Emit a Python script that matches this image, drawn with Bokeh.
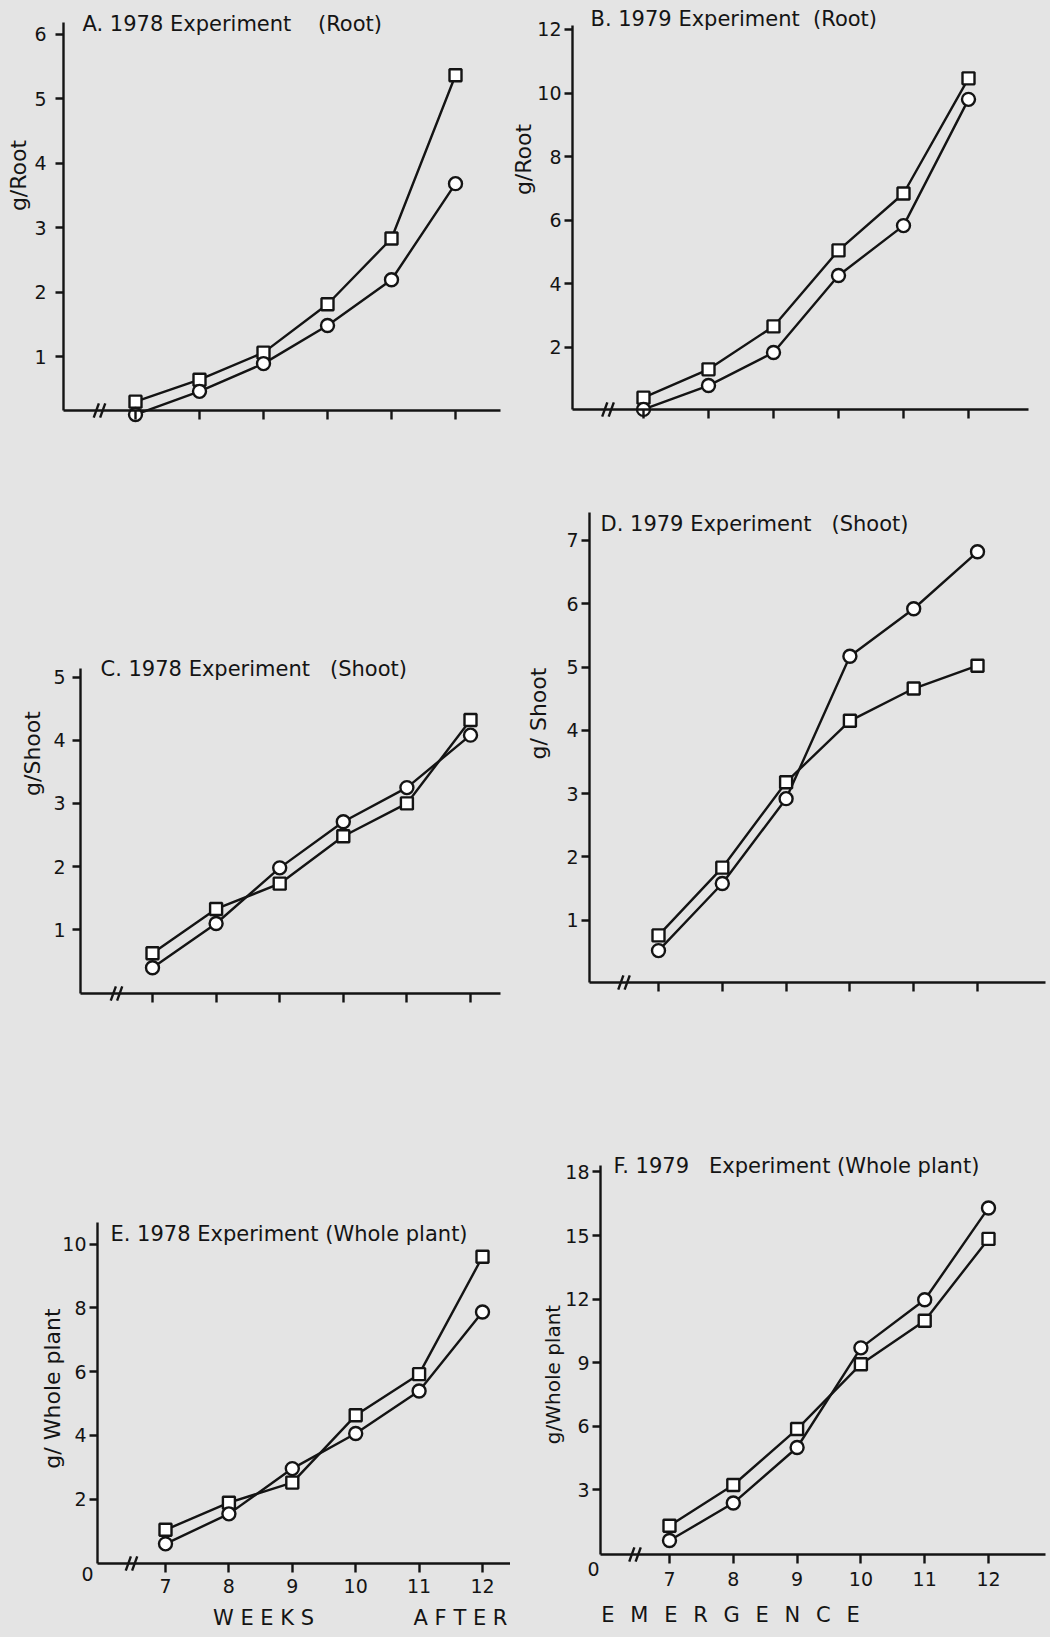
import numpy as np
from bokeh.plotting import figure
from bokeh.models import Label, FixedTicker, Range1d
from bokeh.layouts import row, column
from bokeh.embed import file_html
from bokeh.resources import INLINE

# ---------------- data ----------------
weeks = [7, 8, 9, 10, 11, 12]

root78_sq = [0.30, 0.64, 1.06, 1.81, 2.83, 5.36]
root78_ci = [0.10, 0.46, 0.89, 1.48, 2.19, 3.68]

root79_sq = [0.42, 1.31, 2.66, 5.05, 6.84, 10.46]
root79_ci = [0.05, 0.80, 1.84, 4.26, 5.83, 9.80]

shoot78_sq = [0.63, 1.33, 1.73, 2.48, 3.00, 4.32]
shoot78_ci = [0.40, 1.10, 1.98, 2.71, 3.25, 4.08]

shoot79_sq = [0.76, 1.83, 3.18, 4.15, 4.66, 5.02]
shoot79_ci = [0.52, 1.58, 2.92, 5.17, 5.92, 6.82]

whole78_sq = [1.04, 1.89, 2.52, 4.63, 5.92, 9.60]
whole78_ci = [0.60, 1.54, 2.96, 4.06, 5.39, 7.87]

whole79_sq = [1.31, 3.23, 5.87, 8.93, 10.98, 14.84]
whole79_ci = [0.61, 2.38, 5.00, 9.70, 11.97, 16.30]

NB = "\u00a0"
titles = ["A. 1978 Experiment" + NB * 4 + "(Root)",
          "B. 1979 Experiment" + NB * 2 + "(Root)",
          "C. 1978 Experiment" + NB * 3 + "(Shoot)",
          "D. 1979 Experiment" + NB * 3 + "(Shoot)",
          "E. 1978 Experiment (Whole plant)",
          "F. 1979" + NB * 3 + "Experiment (Whole plant)"]
ylabels = ["g/Root", "g/Root", "g/Shoot", "g/ Shoot", "g/ Whole plant", "g/Whole plant"]
yticks_list = [[1, 2, 3, 4, 5, 6],
               [2, 4, 6, 8, 10, 12],
               [1, 2, 3, 4, 5],
               [1, 2, 3, 4, 5, 6, 7],
               [2, 4, 6, 8, 10],
               [3, 6, 9, 12, 15, 18]]
SP = "\u2002\u2005"
xlabel_words = ["W E E K S", "A F T E R", SP.join("EMERGENCE")]

# ---------------- layout geometry (page pixels, canvas origin at page 0,0) ----------------
BG = "#e4e4e4"
INK = "#141414"
FONT = "DejaVu Sans"

geo = [
    dict(canvas=(0, 0, 510, 440), ax_x=63, ax_y=410, zero=420.5, ppu=64.5, w7=135, ppw=64.0,
         axis_top=22, f_right=500, title=(82, 23), ylab=(18, 175), yfs=22, ystand=9, xlabels=False),
    dict(canvas=(510, 0, 540, 440), ax_x=572, ax_y=409, zero=410.5, ppu=31.8, w7=643, ppw=65.0,
         axis_top=25, f_right=1028, title=(590, 18), ylab=(523, 159), yfs=22, ystand=3, xlabels=False),
    dict(canvas=(0, 440, 510, 580), ax_x=80, ax_y=993, zero=992.5, ppu=63.2, w7=152, ppw=63.6,
         axis_top=668, f_right=500, title=(100, 668), ylab=(32, 753), yfs=22, ystand=7, xlabels=False),
    dict(canvas=(510, 440, 540, 580), ax_x=589, ax_y=982, zero=983.0, ppu=63.3, w7=658, ppw=63.8,
         axis_top=512, f_right=1045, title=(600, 523), ylab=(538, 713), yfs=22, ystand=3, xlabels=False),
    dict(canvas=(0, 1020, 510, 615), ax_x=97, ax_y=1563, zero=1562.5, ppu=31.9, w7=165, ppw=63.4,
         axis_top=1222, f_right=510, title=(110, 1233), ylab=(52, 1388), yfs=22, ystand=3,
         xlabels=True, xstand=6, zero_lab=(87, 1573)),
    dict(canvas=(510, 1020, 540, 615), ax_x=600, ax_y=1554, zero=1553.0, ppu=21.2, w7=669, ppw=63.8,
         axis_top=1165, f_right=1045, title=(613, 1165), ylab=(552, 1374), yfs=20, ystand=3,
         xlabels=True, xstand=8, zero_lab=(593, 1568)),
]

series = [(root78_sq, root78_ci), (root79_sq, root79_ci), (shoot78_sq, shoot78_ci),
          (shoot79_sq, shoot79_ci), (whole78_sq, whole78_ci), (whole79_sq, whole79_ci)]


def make_panel(i):
    g = geo[i]
    sq, ci = series[i]
    fx0, fy0, fw, fh = g["canvas"]

    def xd(px):
        return 7 + (px - g["w7"]) / g["ppw"]

    def yd(py):
        return (g["zero"] - py) / g["ppu"]

    p = figure(width=fw, height=fh,
               x_range=Range1d(xd(fx0), xd(fx0 + fw)),
               y_range=Range1d(yd(fy0 + fh), yd(fy0)),
               output_backend="svg", toolbar_location=None,
               min_border_left=0, min_border_right=0, min_border_top=0, min_border_bottom=0)
    p.background_fill_color = BG
    p.border_fill_color = BG
    p.outline_line_color = None
    p.xgrid.visible = False
    p.ygrid.visible = False

    ax_val = yd(g["ax_y"])
    ax_left = xd(g["ax_x"])

    # y axis
    ya = p.yaxis[0]
    ya.fixed_location = ax_left
    ya.ticker = FixedTicker(ticks=yticks_list[i])
    ya.bounds = (ax_val, yd(g["axis_top"]))
    ya.axis_line_width = 2.4
    ya.axis_line_color = INK
    ya.major_tick_line_width = 2.4
    ya.major_tick_line_color = INK
    ya.major_tick_out = 8
    ya.major_tick_in = 0
    ya.minor_tick_line_color = None
    ya.major_label_standoff = g["ystand"]
    ya.major_label_text_font = FONT
    ya.major_label_text_font_size = "19px"
    ya.major_label_text_color = INK

    # x axis at the data baseline
    xa = p.xaxis[0]
    xa.fixed_location = ax_val
    xa.bounds = (ax_left, xd(g["f_right"]))
    xa.ticker = FixedTicker(ticks=weeks)
    xa.axis_line_width = 2.4
    xa.axis_line_color = INK
    xa.major_tick_line_width = 2.4
    xa.major_tick_line_color = INK
    xa.major_tick_out = 9
    xa.major_tick_in = 0
    xa.minor_tick_line_color = None
    xa.major_label_text_font = FONT
    xa.major_label_text_font_size = "19px"
    xa.major_label_text_color = INK
    if g["xlabels"]:
        xa.major_label_standoff = g["xstand"]
    else:
        xa.major_label_overrides = {w: "" for w in weeks}

    # axis break "//"
    brk = (ax_left + 7) / 2
    p.scatter(x=[brk - 0.05, brk + 0.05], y=[ax_val, ax_val], marker="dash", size=15,
              angle=np.radians(70), line_color=INK, line_width=2.4)

    # series
    p.line(weeks, sq, line_width=2.4, line_color=INK)
    p.line(weeks, ci, line_width=2.4, line_color=INK)
    p.scatter(weeks, sq, marker="square", size=12, fill_color="white", line_color=INK, line_width=2.4)
    p.scatter(weeks, ci, marker="circle", size=13, fill_color="white", line_color=INK, line_width=2.4)

    # panel title
    tx, ty = g["title"]
    p.add_layout(Label(x=xd(tx), y=yd(ty), text=titles[i], text_align="left",
                       text_baseline="middle", text_font=FONT, text_font_size="21px",
                       text_color=INK))
    # y axis title
    lx, ly = g["ylab"]
    p.add_layout(Label(x=xd(lx), y=yd(ly), text=ylabels[i], angle=np.pi / 2,
                       text_align="center", text_baseline="middle", text_font=FONT,
                       text_font_size="%dpx" % g["yfs"], text_color=INK))
    if "zero_lab" in g:
        zx, zy = g["zero_lab"]
        p.add_layout(Label(x=xd(zx), y=yd(zy), text="0", text_align="center",
                           text_baseline="middle", text_font=FONT, text_font_size="19px",
                           text_color=INK))
    return p, xd, yd


panels = [make_panel(i) for i in range(6)]

# shared x-axis title across the bottom row
pE, xdE, ydE = panels[4]
pF, xdF, ydF = panels[5]
pE.add_layout(Label(x=xdE(263), y=ydE(1617), text=xlabel_words[0], text_align="center",
                    text_baseline="middle", text_font=FONT, text_font_size="21px", text_color=INK))
pE.add_layout(Label(x=xdE(460), y=ydE(1617), text=xlabel_words[1], text_align="center",
                    text_baseline="middle", text_font=FONT, text_font_size="21px", text_color=INK))
pF.add_layout(Label(x=xdF(730), y=ydF(1614), text=xlabel_words[2], text_align="center",
                    text_baseline="middle", text_font=FONT, text_font_size="21px", text_color=INK))

ps = [pp[0] for pp in panels]
layout = column(row(ps[0], ps[1]), row(ps[2], ps[3]), row(ps[4], ps[5]))

html = file_html(layout, INLINE, title="Root, shoot and whole plant weight")
html = html.replace("<body>", "<body style=\"background:%s\">" % BG)
open("out.html", "w").write(html)
